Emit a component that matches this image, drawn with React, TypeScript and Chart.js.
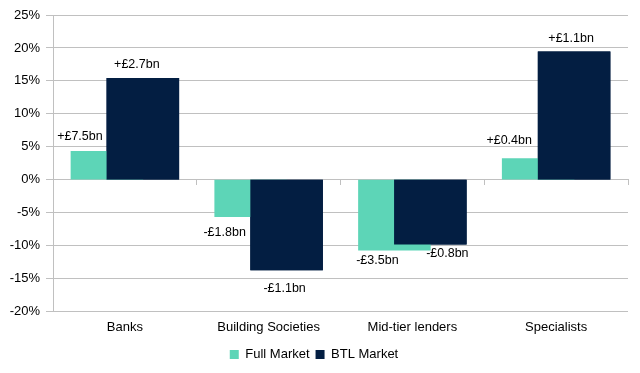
import React, { useEffect, useRef } from 'react';
import { Chart, registerables } from 'chart.js';

Chart.register(...registerables);

const categories = ['Banks', 'Building Societies', 'Mid-tier lenders', 'Specialists'];
const fullMarket = [4.3, -5.6, -10.7, 3.2];
const btlMarket = [15.4, -13.7, -9.8, 19.4];
const fullLabels = ['+£7.5bn', '-£1.8bn', '-£3.5bn', '+£0.4bn'];
const btlLabels = ['+£2.7bn', '-£1.1bn', '-£0.8bn', '+£1.1bn'];
const yMin = -20;
const yMax = 25;
const yStep = 5;

// label nudges (px) relative to bar centre / bar end
const labelNudges = [
  { dx: [-27, -26, -17, -29], dy: [-15, 16, 10, -18] },
  { dx: [-6, -2, 17, -3], dy: [-14, 19, 9, -13] },
];

const FONT = "'Liberation Sans', Arial, sans-serif";
const TEAL = '#5DD5B7';
const NAVY = '#031E42';
const GRID = '#C0C0C0';

const labelPlugin = {
  id: 'barLabels',
  afterDatasetsDraw(chart: any) {
    const ctx = chart.ctx;
    // redraw BTL bars on top of Full Market bars
    const btlMeta = chart.getDatasetMeta(1);
    btlMeta.controller.draw();
    const texts = [fullLabels, btlLabels];
    ctx.save();
    ctx.font = `12.5px ${FONT}`;
    ctx.fillStyle = '#000';
    ctx.textAlign = 'center';
    ctx.textBaseline = 'middle';
    [0, 1].forEach((di) => {
      const meta = chart.getDatasetMeta(di);
      meta.data.forEach((bar: any, i: number) => {
        const nx = labelNudges[di].dx[i];
        const ny = labelNudges[di].dy[i];
        ctx.fillText(texts[di][i], bar.x + nx, bar.y + ny);
      });
    });
    ctx.restore();
  },
};

export default function App() {
  const ref = useRef<HTMLCanvasElement | null>(null);
  useEffect(() => {
    if (!ref.current) return;
    const chart = new Chart(ref.current, {
      type: 'bar',
      data: {
        labels: categories,
        datasets: [
          {
            label: 'Full Market',
            data: fullMarket,
            backgroundColor: TEAL,
            borderWidth: 0,
            categoryPercentage: 0.5,
            barPercentage: 2,
          },
          {
            label: 'BTL Market',
            data: btlMarket,
            backgroundColor: NAVY,
            borderWidth: 0,
            categoryPercentage: 0.5,
            barPercentage: 2,
          },
        ],
      },
      options: {
        animation: false,
        responsive: false,
        maintainAspectRatio: false,
        layout: { padding: { left: 0, right: 12, top: 15, bottom: 2 } },
        plugins: {
          legend: {
            position: 'bottom',
            labels: {
              boxWidth: 9,
              boxHeight: 9,
              padding: 6,
              color: '#000',
              font: { family: FONT, size: 13 },
            },
          },
          tooltip: { enabled: false },
        },
        scales: {
          x: {
            type: 'category',
            position: 'bottom',
            offset: true,
            afterFit: (s: any) => { s.height += 7; },
            grid: { display: false },
            border: { display: false },
            ticks: { color: '#000', font: { family: FONT, size: 13 }, padding: 0, maxRotation: 0 },
          },
          x0: {
            type: 'category',
            position: { y: 0 } as any,
            offset: true,
            grid: { display: true, drawOnChartArea: false, drawTicks: true, tickLength: 5, color: GRID, offset: true },
            border: { display: true, color: GRID },
            ticks: { display: false },
          },
          y: {
            min: yMin,
            max: yMax,
            afterFit: (s: any) => { s.width = 53; },
            ticks: {
              stepSize: yStep,
              color: '#000',
              font: { family: FONT, size: 13 },
              padding: 6,
              callback: (v: any) => `${v}%`,
            },
            grid: { color: GRID, tickLength: 7, drawTicks: true },
            border: { display: true, color: GRID },
          },
        },
      },
      plugins: [labelPlugin],
    });
    return () => chart.destroy();
  }, []);
  return (
    <div style={{ position: 'fixed', left: 0, top: 0, width: 640, height: 373, background: '#fff' }}>
      <canvas ref={ref} width={640} height={373} style={{ width: 640, height: 373 }} />
    </div>
  );
}
